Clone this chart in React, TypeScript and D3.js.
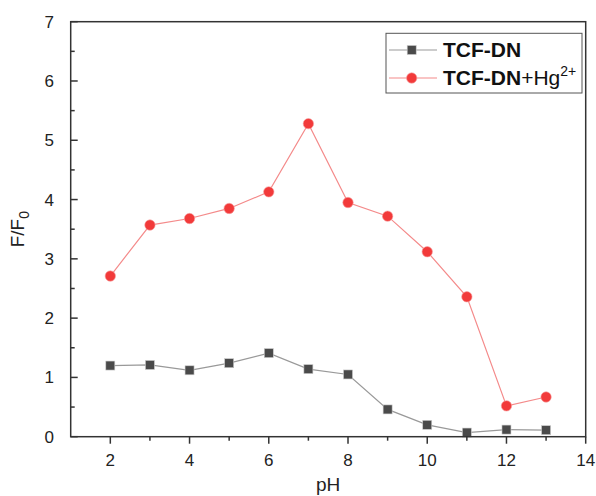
import React from "react";
import * as d3 from "d3";

const phValues = [2, 3, 4, 5, 6, 7, 8, 9, 10, 11, 12, 13];
const probeOnly = [1.2, 1.21, 1.12, 1.24, 1.41, 1.14, 1.05, 0.46, 0.2, 0.07, 0.12, 0.11];
const probeHg = [2.71, 3.57, 3.68, 3.85, 4.13, 5.28, 3.95, 3.72, 3.12, 2.36, 0.52, 0.67];
const xTicks = [2, 4, 6, 8, 10, 12, 14];
const xMinor = [3, 5, 7, 9, 11, 13];
const yTicks = [0, 1, 2, 3, 4, 5, 6, 7];
const yMinor = [0.5, 1.5, 2.5, 3.5, 4.5, 5.5, 6.5];

const W = 596;
const H = 496;
const L = 70.7;
const R = 585.7;
const T = 21.7;
const B = 436.7;

export default function App() {
  const x = d3.scaleLinear().domain([1, 14]).range([L, R]);
  const y = d3.scaleLinear().domain([0, 7]).range([B, T]);
  const line = d3
    .line<number>()
    .x((_, i) => x(phValues[i]))
    .y((d) => y(d));
  const font = "Liberation Sans, Arial, sans-serif";
  return (
    <svg
      width={W}
      height={H}
      style={{ position: "absolute", left: 0, top: 0, background: "#fff" }}
      fontFamily={font}
    >
      <rect x={0} y={0} width={W} height={H} fill="#fff" />
      {/* series lines */}
      <path d={line(probeOnly) || ""} fill="none" stroke="#999" strokeWidth={1.2} />
      <path d={line(probeHg) || ""} fill="none" stroke="#f48a8a" strokeWidth={1.2} />
      {probeOnly.map((v, i) => (
        <rect
          key={"s" + i}
          x={x(phValues[i]) - 4.5}
          y={y(v) - 4.5}
          width={9}
          height={9}
          fill="#4a4a4a"
          stroke="#ccc"
          strokeWidth={0.6}
        />
      ))}
      {probeHg.map((v, i) => (
        <circle
          key={"c" + i}
          cx={x(phValues[i])}
          cy={y(v)}
          r={5.2}
          fill="#f23a3a"
          stroke="#f7a0a0"
          strokeWidth={0.6}
        />
      ))}
      {/* frame */}
      <rect x={L} y={T} width={R - L} height={B - T} fill="none" stroke="#333" strokeWidth={1.5} />
      {/* x ticks */}
      {xTicks.map((t) => (
        <g key={"xt" + t}>
          <line x1={x(t)} x2={x(t)} y1={B} y2={B + 7} stroke="#333" strokeWidth={1.5} />
          <text x={x(t)} y={466} textAnchor="middle" fontSize={17} fill="#222">
            {t}
          </text>
        </g>
      ))}
      {xMinor.map((t) => (
        <line key={"xm" + t} x1={x(t)} x2={x(t)} y1={B} y2={B + 4} stroke="#333" strokeWidth={1.5} />
      ))}
      {/* y ticks */}
      {yTicks.map((t) => (
        <g key={"yt" + t}>
          <line x1={L} x2={L + 7} y1={y(t)} y2={y(t)} stroke="#333" strokeWidth={1.5} />
          <text x={54} y={y(t) + 6} textAnchor="end" fontSize={17} fill="#222">
            {t}
          </text>
        </g>
      ))}
      {yMinor.map((t) => (
        <line key={"ym" + t} x1={L} x2={L + 4} y1={y(t)} y2={y(t)} stroke="#333" strokeWidth={1.5} />
      ))}
      {/* axis titles */}
      <text x={(L + R) / 2} y={491} textAnchor="middle" fontSize={19} fill="#222">
        pH
      </text>
      <text
        transform={`translate(24, ${(T + B) / 2}) rotate(-90)`}
        textAnchor="middle"
        fontSize={19}
        fill="#222"
      >
        F/F
        <tspan fontSize={14} dy={5}>
          0
        </tspan>
      </text>
      {/* legend */}
      <rect x={386} y={33.3} width={196} height={59.7} fill="#fff" stroke="#555" strokeWidth={1} />
      <line x1={389} x2={437} y1={50} y2={50} stroke="#999" strokeWidth={1.2} />
      <rect x={411.7 - 4.5} y={50 - 4.5} width={9} height={9} fill="#4a4a4a" stroke="#ccc" strokeWidth={0.6} />
      <text x={443} y={57.3} fontSize={21} fontWeight="bold" fill="#111">
        TCF-DN
      </text>
      <line x1={389} x2={437} y1={78} y2={78} stroke="#f48a8a" strokeWidth={1.2} />
      <circle cx={411.7} cy={78} r={5.2} fill="#f23a3a" stroke="#f7a0a0" strokeWidth={0.6} />
      <text x={443} y={85} fontSize={21} fill="#111">
        <tspan fontWeight="bold">TCF-DN</tspan>
        <tspan>+Hg</tspan>
        <tspan fontSize={14} dy={-9}>
          2+
        </tspan>
      </text>
    </svg>
  );
}
